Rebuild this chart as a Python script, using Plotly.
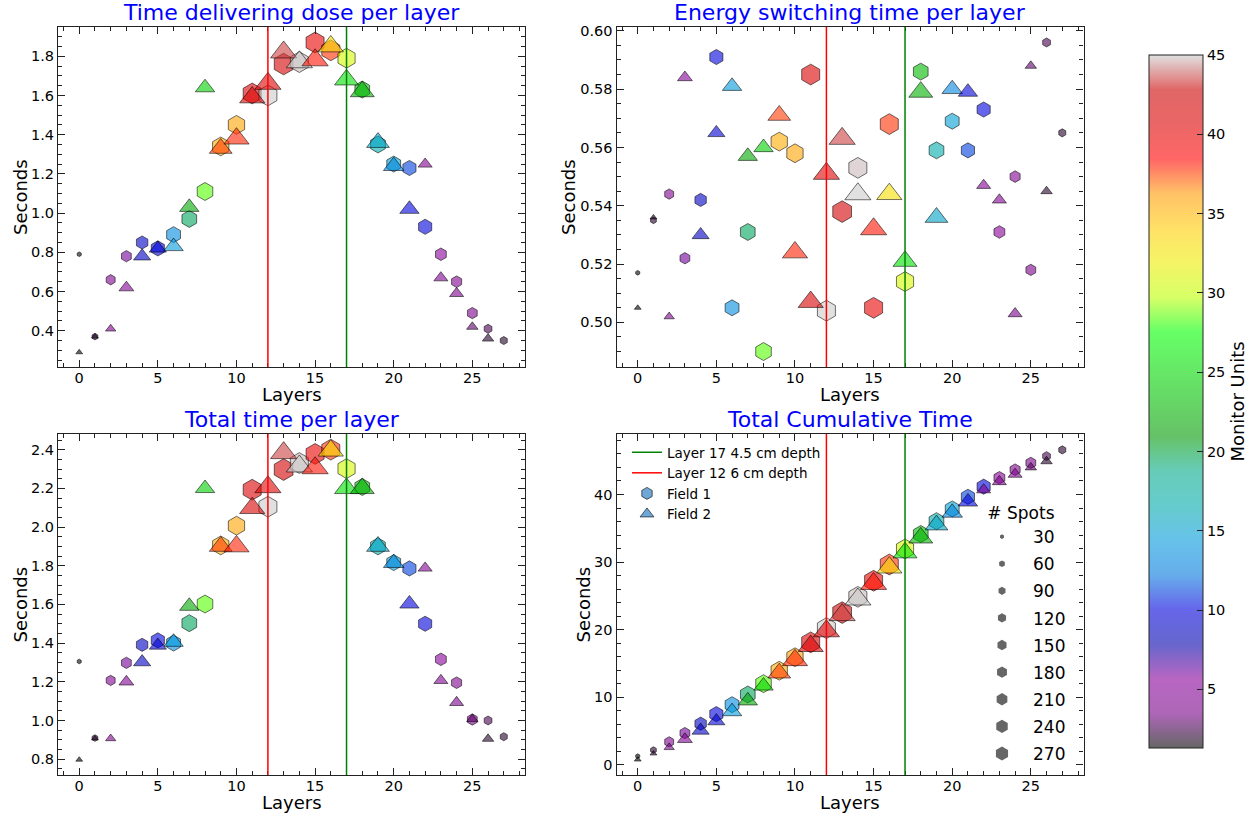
import math
import plotly.graph_objects as go

# ---------------- data ----------------
layers_field1 = list(range(28))
layers_field2 = list(range(27))

dose_f1 = [0.79, 0.37, 0.66, 0.78, 0.85, 0.82, 0.89, 0.97, 1.11, 1.34, 1.45, 1.61, 1.60, 1.76,
           1.77, 1.87, 1.83, 1.79, 1.63, 1.35, 1.25, 1.23, 0.93, 0.79, 0.65, 0.49, 0.41, 0.35]
dose_f2 = [0.29, 0.37, 0.41, 0.62, 0.78, 0.82, 0.83, 1.03, 1.64, 1.33, 1.38, 1.59, 1.66, 1.82,
           1.77, 1.78, 1.85, 1.68, 1.62, 1.36, 1.24, 1.02, 1.25, 0.67, 0.59, 0.42, 0.36]

switch_f1 = [0.517, 0.535, 0.544, 0.522, 0.542, 0.591, 0.505, 0.531, 0.490, 0.562, 0.558, 0.585,
             0.504, 0.538, 0.553, 0.505, 0.568, 0.514, 0.586, 0.559, 0.569, 0.559, 0.573, 0.531,
             0.550, 0.518, 0.596, 0.565]
switch_f2 = [0.505, 0.536, 0.502, 0.584, 0.530, 0.565, 0.581, 0.557, 0.560, 0.571, 0.524, 0.507,
             0.551, 0.563, 0.544, 0.532, 0.544, 0.521, 0.579, 0.536, 0.580, 0.579, 0.547, 0.542,
             0.503, 0.588, 0.545]

total_f1 = [1.305, 0.909, 1.207, 1.298, 1.391, 1.414, 1.400, 1.503, 1.602, 1.905, 2.007, 2.193,
            2.105, 2.297, 2.331, 2.378, 2.400, 2.302, 2.207, 1.900, 1.816, 1.786, 1.500, 1.316,
            1.195, 1.005, 1.000, 0.916]
total_f2 = [0.797, 0.907, 0.907, 1.200, 1.302, 1.388, 1.405, 1.591, 2.200, 1.900, 1.900, 2.098,
            2.207, 2.383, 2.314, 2.305, 2.395, 2.200, 2.200, 1.900, 1.814, 1.603, 1.788, 1.207,
            1.093, 1.007, 0.905]

cumul_f1 = [1.31, 2.21, 3.42, 4.72, 6.11, 7.52, 8.92, 10.43, 12.03, 13.94, 15.94, 18.14, 20.24,
            22.54, 24.87, 27.25, 29.65, 31.95, 34.16, 36.06, 37.87, 39.66, 41.16, 42.48, 43.67,
            44.68, 45.68, 46.60]
cumul_f2 = [0.80, 1.70, 2.61, 3.81, 5.11, 6.50, 7.91, 9.50, 11.70, 13.60, 15.50, 17.59, 19.80,
            22.19, 24.50, 26.80, 29.20, 31.40, 33.60, 35.50, 37.31, 38.92, 40.70, 41.91, 43.00,
            44.01, 44.92]

mu_f1 = [1.5, 2.0, 4.5, 6.0, 9.0, 10.0, 13.5, 19.5, 28.5, 35.5, 35.8, 40.7, 45.0, 42.0,
         44.8, 39.8, 37.8, 30.8, 23.0, 16.6, 15.0, 11.2, 10.0, 5.5, 4.5, 3.8, 2.6, 2.0]
mu_f2 = [1.3, 2.0, 4.5, 5.2, 9.0, 9.6, 14.5, 22.0, 24.5, 37.6, 38.0, 41.0, 40.6, 43.5,
         45.0, 38.2, 33.0, 25.6, 22.5, 15.5, 13.0, 10.0, 5.0, 4.6, 4.0, 3.0, 2.0]

spots_f1 = [15, 30, 73, 88, 119, 158, 176, 198, 222, 244, 244, 298, 298, 322,
            298, 298, 298, 270, 198, 198, 176, 158, 158, 108, 93, 88, 55, 45]
spots_f2 = [22, 22, 50, 104, 138, 138, 176, 176, 176, 244, 298, 298, 322, 322,
            322, 322, 298, 270, 270, 244, 198, 176, 93, 93, 93, 62, 62]

spots_legend = [30, 60, 90, 120, 150, 180, 210, 240, 270]

layer_red = 12
layer_green = 17

panel_titles = ["Time delivering dose per layer", "Energy switching time per layer",
                "Total time per layer", "Total Cumulative Time"]
legend_line_labels = ["Layer 17 4.5 cm depth", "Layer 12 6 cm depth"]
field_labels = ["Field 1", "Field 2"]
x_label = "Layers"
y_label = "Seconds"
cbar_label = "Monitor Units"

# ---------------- styling ----------------
W, H = 1253, 819
FONT = "DejaVu Sans"
AXC = "#222222"
EDGE = "rgba(0,0,0,0.55)"
ALPHA = 0.6
SIZEREF_HEX = 270 / 14.0 ** 2
SIZEREF_TRI = SIZEREF_HEX / 1.05 ** 2

# nipy_spectral control points
_R = [0.0, 0.4667, 0.5333, 0.0, 0.0, 0.0, 0.0, 0.0, 0.0, 0.0, 0.0, 0.0, 0.0, 0.7333, 0.9333,
      1.0, 1.0, 1.0, 0.8667, 0.80, 0.80]
_G = [0.0, 0.0, 0.0, 0.0, 0.0, 0.4667, 0.6, 0.6667, 0.6667, 0.6, 0.7333, 0.8667, 1.0, 1.0,
      0.9333, 0.8, 0.6, 0.0, 0.0, 0.0, 0.80]
_B = [0.0, 0.5333, 0.6, 0.6667, 0.8667, 0.8667, 0.8667, 0.6667, 0.5333, 0.0, 0.0, 0.0, 0.0,
      0.0, 0.0, 0.0, 0.0, 0.0, 0.0, 0.0, 0.80]
colorscale = [[i / 20, "rgba(%d,%d,%d,%.2f)" % (round(r * 255), round(g * 255), round(b * 255), ALPHA)]
              for i, (r, g, b) in enumerate(zip(_R, _G, _B))]


def fx(p):
    return p / W


def fy(p):
    return 1 - p / H


# panel pixel boxes: left, right, top, bottom
boxes = [(58, 525, 27, 367), (616.5, 1083.5, 27, 367),
         (58, 525, 434, 775), (616.5, 1083.5, 434, 775)]
ylabel_x = [20, 568, 20, 583]
yranges = [[0.215, 1.949], [0.4847, 0.6013], [0.718, 2.481], [-1.48, 48.95]]
ydticks = [0.2, 0.02, 0.2, 10]
yminor = [0.05, 0.005, 0.05, 2]
yfmt = [".1f", ".2f", ".1f", "d"]

fig = go.Figure()

series = [(dose_f1, dose_f2), (switch_f1, switch_f2), (total_f1, total_f2), (cumul_f1, cumul_f2)]

for i, (s1, s2) in enumerate(series):
    xa = "x" if i == 0 else "x%d" % (i + 1)
    ya = "y" if i == 0 else "y%d" % (i + 1)
    fig.add_trace(go.Scatter(
        x=layers_field1, y=s1, mode="markers", xaxis=xa, yaxis=ya, showlegend=False,
        marker=dict(symbol="hexagon", size=spots_f1, sizemode="area", sizeref=SIZEREF_HEX,
                    opacity=1, color=mu_f1, coloraxis="coloraxis",
                    line=dict(color=EDGE, width=1))))
    fig.add_trace(go.Scatter(
        x=layers_field2, y=s2, mode="markers", xaxis=xa, yaxis=ya, showlegend=False,
        marker=dict(symbol="triangle-up", size=spots_f2, sizemode="area", sizeref=SIZEREF_TRI,
                    opacity=1, color=mu_f2, coloraxis="coloraxis",
                    line=dict(color=EDGE, width=1))))

# vertical marker lines
shapes = []
for i in range(4):
    xr = "x" if i == 0 else "x%d" % (i + 1)
    yr = "y domain" if i == 0 else "y%d domain" % (i + 1)
    for lx, col in ((layer_red, "red"), (layer_green, "green")):
        shapes.append(dict(type="line", xref=xr, yref=yr, x0=lx, x1=lx, y0=0, y1=1,
                           line=dict(color=col, width=1.5), layer="above"))

# legend 1 entries (panel 4)
fig.add_trace(go.Scatter(x=[None], y=[None], xaxis="x4", yaxis="y4", mode="lines",
                         name=legend_line_labels[0], line=dict(color="green", width=1.5),
                         legend="legend"))
fig.add_trace(go.Scatter(x=[None], y=[None], xaxis="x4", yaxis="y4", mode="lines",
                         name=legend_line_labels[1], line=dict(color="red", width=1.5),
                         legend="legend"))
fig.add_trace(go.Scatter(x=[None], y=[None], xaxis="x4", yaxis="y4", mode="markers",
                         name=field_labels[0], legend="legend",
                         marker=dict(symbol="hexagon", size=12, color="rgb(111,168,214)",
                                     line=dict(color="rgba(0,0,0,0.6)", width=1))))
fig.add_trace(go.Scatter(x=[None], y=[None], xaxis="x4", yaxis="y4", mode="markers",
                         name=field_labels[1], legend="legend",
                         marker=dict(symbol="triangle-up", size=12, color="rgb(111,168,214)",
                                     line=dict(color="rgba(0,0,0,0.6)", width=1))))

# spots legend
for s in spots_legend:
    fig.add_trace(go.Scatter(x=[None], y=[None], xaxis="x4", yaxis="y4", mode="markers",
                             name=str(s), legend="legend2", legendgroup="sp%d" % s,
                             marker=dict(symbol="hexagon", size=math.sqrt(s / SIZEREF_HEX),
                                         color="rgb(102,102,102)", line=dict(width=0))))

allmu = mu_f1 + mu_f2

layout = dict(
    width=W, height=H,
    margin=dict(l=0, r=0, t=0, b=0, autoexpand=False),
    paper_bgcolor="white", plot_bgcolor="white",
    font=dict(family=FONT, size=14, color="black"),
    shapes=shapes,
    coloraxis=dict(
        colorscale=colorscale, cmin=min(allmu), cmax=max(allmu),
        colorbar=dict(
            x=fx(1149), xanchor="left", xpad=0, y=fy(401.5), yanchor="middle", ypad=0,
            thickness=54, thicknessmode="pixels", len=693, lenmode="pixels",
            outlinewidth=1, outlinecolor=AXC,
            tickmode="linear", tick0=0, dtick=5, ticks="inside", ticklen=6, tickcolor=AXC,
            tickfont=dict(size=14.5, family=FONT),
            title=dict(text=cbar_label, side="right", font=dict(size=18, family=FONT)),
        ),
    ),
    legend=dict(x=fx(627), y=fy(437), xanchor="left", yanchor="top",
                bgcolor="rgba(0,0,0,0)", font=dict(size=13.5, family=FONT),
                traceorder="normal"),
    legend2=dict(x=fx(971), y=fy(497), xanchor="left", yanchor="top", itemwidth=52,
                 bgcolor="rgba(0,0,0,0)", font=dict(size=17, family=FONT),
                 title=dict(text="# Spots", side="top center", font=dict(size=17, family=FONT)),
                 tracegroupgap=2),
    annotations=[],
)

for i in range(4):
    l, r, t, b = boxes[i]
    xk = "xaxis" if i == 0 else "xaxis%d" % (i + 1)
    yk = "yaxis" if i == 0 else "yaxis%d" % (i + 1)
    yanchor = "y" if i == 0 else "y%d" % (i + 1)
    xanchor = "x" if i == 0 else "x%d" % (i + 1)
    layout[xk] = dict(
        domain=[fx(l), fx(r)], anchor=yanchor, range=[-1.35, 28.35],
        tickmode="linear", tick0=0, dtick=5, ticks="inside", ticklen=7, tickwidth=1,
        tickcolor=AXC, showline=True, linecolor=AXC, linewidth=1.2, mirror="allticks",
        showgrid=False, zeroline=False, ticklabelstandoff=-3,
        minor=dict(ticks="inside", ticklen=4, dtick=1, tick0=0, tickcolor=AXC, showgrid=False),
        tickfont=dict(size=14.5, family=FONT),
    )
    layout[yk] = dict(
        domain=[fy(b), fy(t)], anchor=xanchor, range=yranges[i],
        tickmode="linear", tick0=0, dtick=ydticks[i], tickformat=yfmt[i],
        ticks="inside", ticklen=7, tickwidth=1,
        tickcolor=AXC, showline=True, linecolor=AXC, linewidth=1.2, mirror="allticks",
        showgrid=False, zeroline=False,
        minor=dict(ticks="inside", ticklen=4, dtick=yminor[i], tick0=0, tickcolor=AXC,
                   showgrid=False),
        tickfont=dict(size=14.5, family=FONT),
    )
    layout["annotations"].append(dict(
        text=panel_titles[i], xref="paper", yref="paper", x=fx((l + r) / 2), y=fy(t),
        xanchor="center", yanchor="bottom", yshift=0, showarrow=False,
        font=dict(size=22, color="blue", family=FONT)))
    layout["annotations"].append(dict(
        text=x_label, xref="paper", yref="paper", x=fx((l + r) / 2), y=fy(b + 27),
        xanchor="center", yanchor="middle", showarrow=False,
        font=dict(size=18, family=FONT)))
    layout["annotations"].append(dict(
        text=y_label, xref="paper", yref="paper", x=fx(ylabel_x[i]), y=fy((t + b) / 2),
        xanchor="center", yanchor="middle", textangle=-90, showarrow=False,
        font=dict(size=18, family=FONT)))

fig.update_layout(**layout)
fig.write_html("out.html", config={"displayModeBar": False},
               post_script="document.body.style.margin='0px';")
